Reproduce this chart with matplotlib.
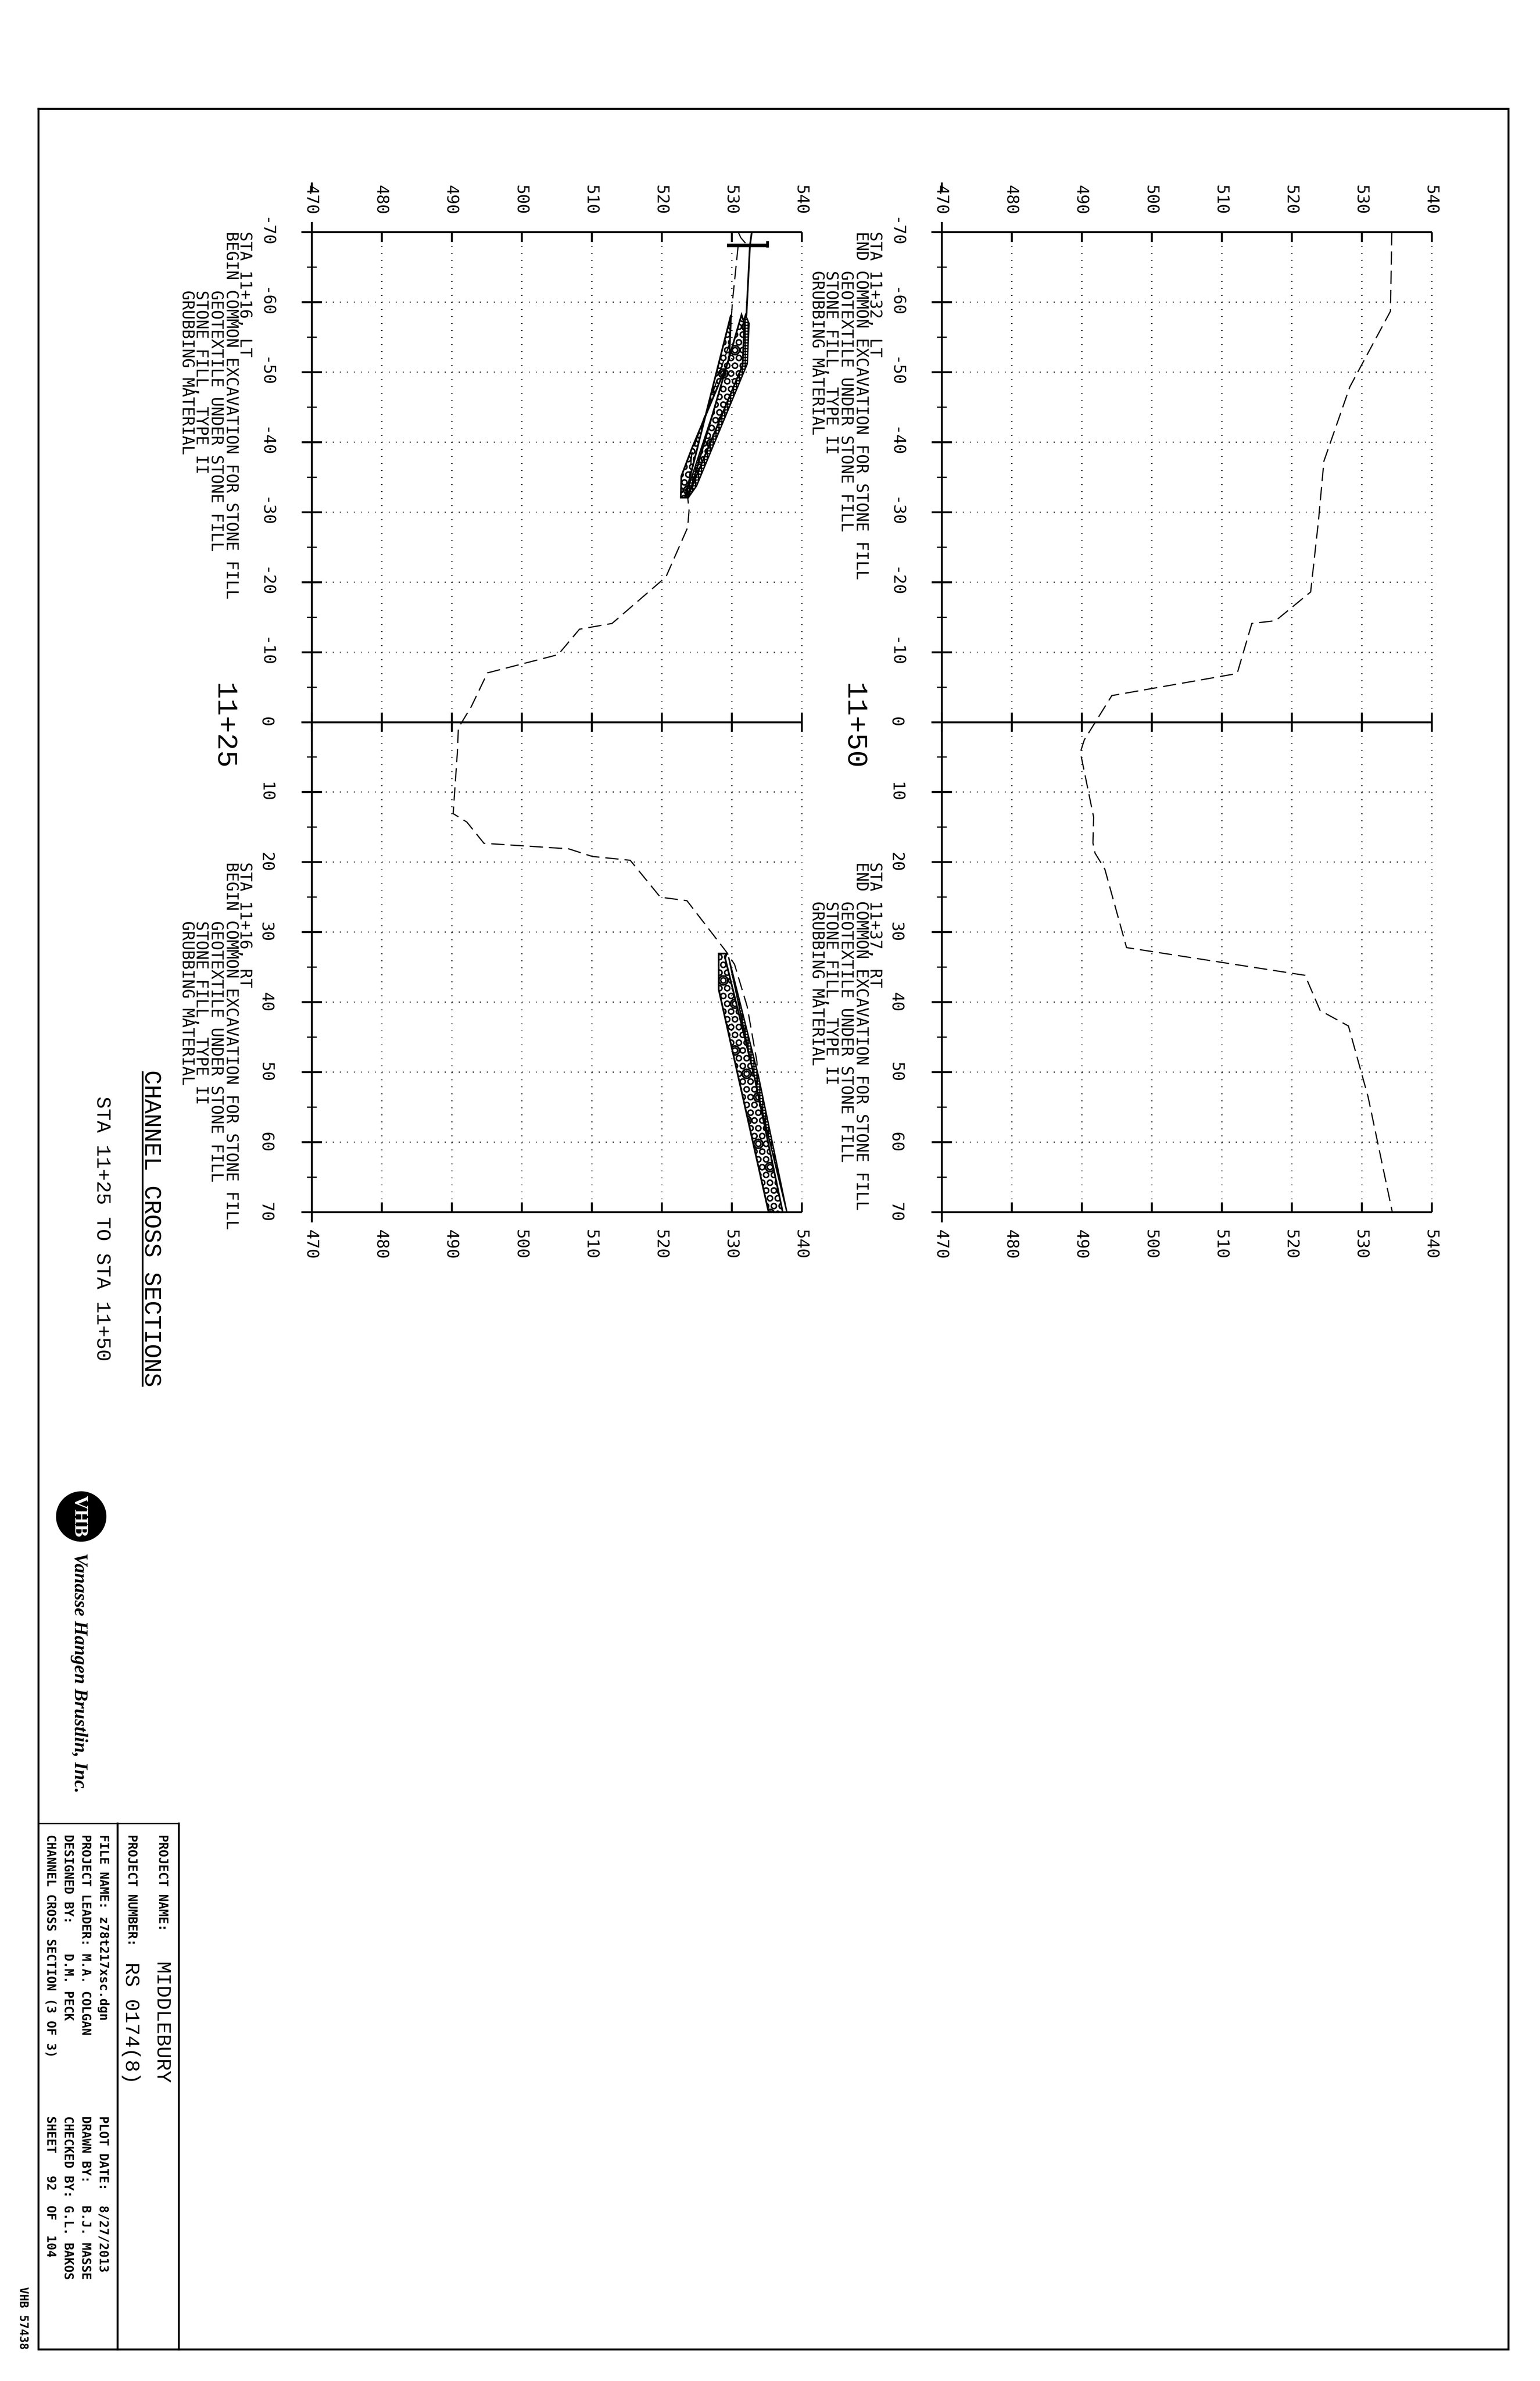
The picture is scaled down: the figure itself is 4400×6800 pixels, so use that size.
import matplotlib
matplotlib.use("Agg")
import matplotlib.pyplot as plt
from matplotlib.patches import Polygon, Circle
import numpy as np

# ---------- data (elevation on x, offset from centreline on y) ----------
elev_ticks = [470, 480, 490, 500, 510, 520, 530, 540]
sta_major = [-70, -60, -50, -40, -30, -20, -10, 0, 10, 20, 30, 40, 50, 60, 70]
sta_minor = [-65, -55, -45, -35, -25, -15, -5, 5, 15, 25, 35, 45, 55, 65]
sta_heavy = [-70, 0, 70]

g25_sta = [-67.9, -60.1, -54.1, -38.4, -32.2, -30.25, -27.8, -20.75, -14.1, -13.28, -9.65, -7.04, -2.24,
           0.82, 4.35, 13.06, 14.27, 17.3, 18.09, 19.18, 19.73, 25.0, 25.5, 32.76, 34.6, 40.6, 48.5, 53.4]
g25_elev = [530.9, 530.1, 529.7, 524.3, 523.7, 523.9, 523.7, 520.6, 512.9, 508.25, 505.2, 495.1, 492.8,
            490.95, 490.8, 490.2, 492.16, 494.6, 506.7, 510.07, 515.5, 519.8, 523.6, 529.2, 530.4, 532.2, 533.6, 533.75]

g50_sta = [-70, -58.7, -47.9, -37.3, -28.6, -18.6, -14.5, -14.1, -6.95, -3.8, 2.52, 4.3, 13.57, 17.26, 18.7,
           21.0, 32.2, 36.16, 41.18, 43.4, 53.5, 69.9]
g50_elev = [534.3, 534.1, 528.3, 524.6, 523.8, 522.7, 517.7, 514.3, 512.2, 494.3, 490.37, 489.8, 491.7, 491.6, 491.9,
            493.3, 496.4, 521.9, 524.05, 528.1, 530.9, 534.35]

# left-side stone fill on 11+25
ls_base_sta = [-58.18, -51.85, -39.1, -35.14, -32.08, -32.08]
ls_base_elev = [529.89, 529.64, 524.3, 522.8, 522.72, 523.8]
ls_top_sta = [-32.08, -33.74, -51.2, -56.96, -58.18]
ls_top_elev = [523.8, 524.97, 532.22, 532.47, 531.97]
ls_mid_sta = [-32.08, -33.6, -51.0, -57.0, -58.18]
ls_mid_elev = [523.3, 524.3, 531.55, 531.8, 531.4]

# right-side stone fill on 11+25
rs_base_sta = [33.05, 33.05, 38.15, 70.0]
rs_base_elev = [529.3, 528.13, 528.13, 535.27]
rs_top_sta = [33.56, 50.5, 70.0]
rs_top_elev = [529.55, 533.8, 537.88]
rs_mid_sta = [33.7, 50.5, 70.0]
rs_mid_elev = [529.05, 533.2, 537.28]

# finished surface above the stone and the bar at the top of slope on 11+25
fin_sta = [-69.84, -68.1, -58.18]
fin_elev = [532.84, 532.6, 532.1]
bar_sta = [-68.1, -68.1]
bar_elev = [529.3, 535.1]
knob_sta = [-68.7, -67.8]
knob_elev = [535.1, 535.1]
hook_sta = [-69.84, -69.2, -68.5]
hook_elev = [531.0, 531.3, 531.9]

left25 = ["STA 11+16, LT", "BEGIN COMMON EXCAVATION FOR STONE FILL", "GEOTEXTILE UNDER STONE FILL", "STONE FILL, TYPE II", "GRUBBING MATERIAL"]
right25 = ["STA 11+16, RT", "BEGIN COMMON EXCAVATION FOR STONE FILL", "GEOTEXTILE UNDER STONE FILL", "STONE FILL, TYPE II", "GRUBBING MATERIAL"]
left50 = ["STA 11+32, LT", "END COMMON EXCAVATION FOR STONE FILL", "GEOTEXTILE UNDER STONE FILL", "STONE FILL, TYPE II", "GRUBBING MATERIAL"]
right50 = ["STA 11+37, RT", "END COMMON EXCAVATION FOR STONE FILL", "GEOTEXTILE UNDER STONE FILL", "STONE FILL, TYPE II", "GRUBBING MATERIAL"]

block_left = ["FILE NAME: z78t217xsc.dgn", "PROJECT LEADER: M.A. COLGAN", "DESIGNED BY:    D.M. PECK", "CHANNEL CROSS SECTION (3 OF 3)"]
block_right = ["PLOT DATE:  8/27/2013", "DRAWN BY:   B.J. MASSE", "CHECKED BY: G.L. BAKOS", "SHEET   92  OF  104"]

# ---------- set-up ----------
W, H, DPI = 4400, 6800, 400
PX = 72.0 / DPI
plt.rcParams["lines.scale_dashes"] = False
plt.rcParams["hatch.linewidth"] = 3.6 * PX
MONO = "DejaVu Sans Mono"
THIN = "Liberation Mono"
SERIF = "Liberation Serif"

fig = plt.figure(figsize=(W / DPI, H / DPI), dpi=DPI, facecolor="white")
page = fig.add_axes([0, 0, 1, 1])
page.set_xlim(0, W)
page.set_ylim(H, 0)
page.axis("off")


def down(xc, y, s, em_px, family=MONO, cap=0.73, weight="normal", style="normal", color="black", ha="left"):
    """Reading-downward text; xc is the middle of the capitals, in page pixels."""
    page.text(xc - cap * em_px / 2, y, s, rotation=270, rotation_mode="anchor", ha=ha, va="baseline",
              fontsize=em_px * PX, family=family, fontweight=weight, fontstyle=style, color=color)


def panel(x0, ground_sta, ground_elev):
    y0, y1 = 663.0, 3462.0
    ax = fig.add_axes([x0 / W, 1 - y1 / H, 1400 / W, (y1 - y0) / H])
    ax.set_xlim(470, 540)
    ax.set_ylim(70, -70)
    ax.axis("off")
    ax.patch.set_alpha(0)
    kw = dict(color="black", clip_on=False, solid_capstyle="butt")
    dots = dict(color="black", clip_on=False, lw=4 * PX, dashes=(2 * PX, 18 * PX), dash_capstyle="butt")
    for s in sta_major:
        if s not in sta_heavy:
            ax.plot([470, 540], [s, s], **dots)
            ax.plot([468.55, 471.45], [s, s], lw=5.5 * PX, **kw)
    for e in elev_ticks[1:]:
        ax.plot([e, e], [-70, 70], **dots)
    for s in sta_minor:
        ax.plot([469.3, 470.7], [s, s], lw=3.5 * PX, **kw)
    for s in sta_heavy:
        ax.plot([468.5, 540], [s, s], lw=5.5 * PX, **kw)
    ax.plot([470, 470], [-71.45, 71.45], lw=5.5 * PX, **kw)
    for e in elev_ticks[1:]:
        ax.plot([e, e], [-70, -68.6], lw=5.5 * PX, **kw)
        ax.plot([e, e], [-1.4, 1.4], lw=5.5 * PX, **kw)
        ax.plot([e, e], [68.6, 70], lw=5.5 * PX, **kw)
    ax.plot([470, 470], [-0.0 - 1.4, 1.4], lw=5.5 * PX, **kw)
    ax.plot([470, 470], [-77.1, -75.7], lw=5.5 * PX, **kw)
    # tick labels
    lab = dict(ha="center", va="baseline", rotation=270, rotation_mode="anchor", family=MONO,
               fontsize=47 * PX, clip_on=False)
    for s in sta_major:
        ax.text(470 - 6.4 - 0.85, s, f"{s}", **lab)
    for e in elev_ticks:
        ax.text(e - 0.85, -74.6, f"{e}", **lab)
        ax.text(e - 0.85, 74.6, f"{e}", **lab)
    # existing ground
    ax.plot(ground_elev, ground_sta, color="black", lw=3.4 * PX, dashes=(38 * PX, 17 * PX),
            dash_capstyle="butt", dash_joinstyle="miter", clip_on=False)
    return ax


def stone(ax, base_e, base_s, mid_e, mid_s, top_e, top_s):
    rock = np.column_stack([base_e + mid_e, base_s + mid_s])
    band = np.column_stack([mid_e + top_e[::-1], mid_s + top_s[::-1]])
    ax.add_patch(Polygon(band, closed=True, fc="white", ec="black", lw=4 * PX, hatch="++++++++", clip_on=False))
    ax.add_patch(Polygon(rock, closed=True, fc="white", ec="black", lw=5 * PX, hatch="OOOo", clip_on=False))


ax25 = panel(890.7, g25_sta, g25_elev)
ax50 = panel(2690.7, g50_sta, g50_elev)

stone(ax25, ls_base_elev, ls_base_sta, ls_mid_elev[::-1], ls_mid_sta[::-1], ls_top_elev, ls_top_sta)
stone(ax25, rs_base_elev, rs_base_sta, rs_mid_elev[::-1], rs_mid_sta[::-1], rs_top_elev, rs_top_sta)
ax25.plot(fin_elev, fin_sta, color="black", lw=5 * PX, clip_on=False)
ax25.plot(bar_elev, bar_sta, color="black", lw=10 * PX, solid_capstyle="butt", clip_on=False)
ax25.plot(knob_elev, knob_sta, color="black", lw=8 * PX, solid_capstyle="butt", clip_on=False)
ax25.plot(hook_elev, hook_sta, color="black", lw=3.4 * PX, clip_on=False)

# ---------- section notes ----------
note_x = [703, 663, 620.5, 578, 537]


def notes(dx, ystart, lines, indent):
    for i, (xc, s) in enumerate(zip(note_x, lines)):
        y = ystart + (indent if i >= 2 else 0)
        down(xc + dx, y, s, 46)


notes(0, 661, left25, 168)
notes(0, 2462, right25, 168)
notes(1800, 661, left50, 112)
notes(1800, 2462, right50, 112)

down(645, 1951, "11+25", 82, family=THIN, cap=0.68)
down(2445, 1951, "11+50", 82, family=THIN, cap=0.68)

down(437, 3056, "CHANNEL CROSS SECTIONS", 68.5, family=THIN, cap=0.68)
page.plot([406.5, 406.5], [3059, 3960], color="black", lw=5 * PX, solid_capstyle="butt")
down(296, 3131, "STA 11+25 TO STA 11+50", 57.4, family=THIN, cap=0.68)

# ---------- logo ----------
page.add_patch(Circle((232, 4331), 72, fc="black", ec="none"))
down(232, 4271, "VHB", 55, family=SERIF, cap=0.66, weight="bold", color="white")
down(231, 4435, "Vanasse Hangen Brustlin, Inc.", 54, family=SERIF, cap=0.66, weight="bold", style="italic")

# ---------- frame and title block ----------
line = dict(color="black", solid_capstyle="projecting", solid_joinstyle="miter")
page.plot([110, 4310, 4310, 110, 110], [310.5, 310.5, 6709.5, 6709.5, 310.5], lw=5.5 * PX, **line)
page.plot([110, 510], [5208, 5208], lw=4 * PX, **line)
page.plot([335.5, 335.5], [5208, 6709.5], lw=5.5 * PX, **line)
page.plot([510.5, 510.5], [5208, 6709.5], lw=5.5 * PX, **line)

down(467, 5239, "PROJECT NAME:", 35.3, weight="bold")
down(379, 5239, "PROJECT NUMBER:", 35.3, weight="bold")
down(466, 5604, "MIDDLEBURY", 58, family=THIN, cap=0.68)
down(379, 5604, "RS 0174(8)", 58, family=THIN, cap=0.68)
for xc, a, b in zip([297.5, 247.5, 197, 147], block_left, block_right):
    down(xc, 5239, a, 35.3, weight="bold")
    down(xc, 6043, b, 35.3, weight="bold")
down(68, 6531, "VHB 57438", 33, weight="bold")

fig.savefig("out.png", dpi=DPI, facecolor="white")
